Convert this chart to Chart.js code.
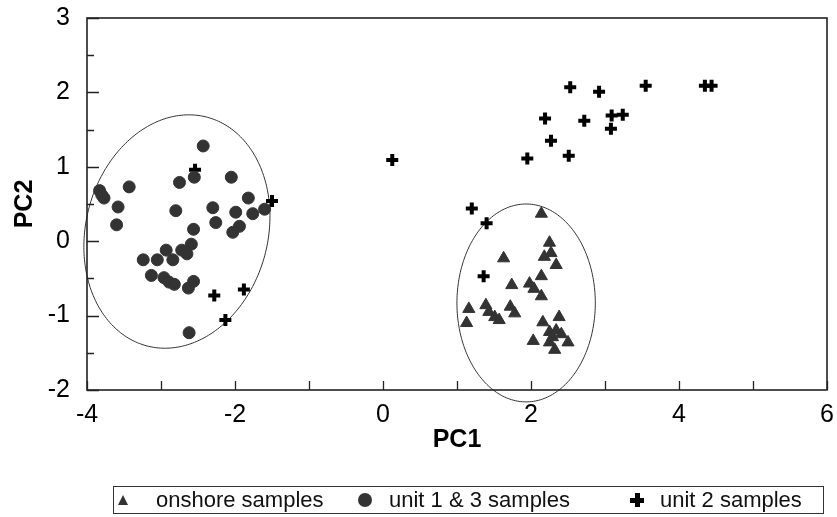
<!DOCTYPE html>
<html><head><meta charset="utf-8">
<script src="https://cdn.jsdelivr.net/npm/chart.js@4/dist/chart.umd.min.js"></script>
<style>
html,body{margin:0;padding:0;background:#fff;}
#wrap{position:relative;width:837px;height:517px;overflow:hidden;}
#legend{position:absolute;left:113px;top:486px;width:709px;height:26px;border:1px solid #333;font-family:"Liberation Sans",Arial,sans-serif;font-size:22px;color:#111;box-sizing:content-box;}
.txt{position:absolute;top:0;height:26px;line-height:26px;white-space:nowrap;}
.mk{position:absolute;}
</style></head><body>
<div id="wrap"><canvas id="c" width="837" height="517" style="width:837px;height:517px"></canvas><div id="legend"></div></div>
<script>
// ---- data ----
const onshoreX = [2.14, 2.25, 2.18, 2.27, 2.34, 1.63, 2.14, 1.98, 2.04, 2.14, 1.74, 1.16, 1.13, 1.39, 1.43, 1.51, 1.57, 1.72, 1.78, 2.16, 2.38, 2.25, 2.34, 2.41, 2.03, 2.25, 2.32, 2.50, 2.29];
const onshoreY = [0.37, -0.02, -0.21, -0.16, -0.32, -0.23, -0.47, -0.57, -0.64, -0.74, -0.59, -0.91, -1.10, -0.86, -0.95, -1.02, -1.06, -0.88, -0.97, -1.09, -1.02, -1.22, -1.20, -1.25, -1.34, -1.36, -1.46, -1.36, -1.29];

const unit13X = [-2.43, -2.55, -2.75, -2.05, -3.43, -3.83, -3.80, -3.77, -3.58, -3.60, -2.80, -2.30, -1.82, -1.99, -1.76, -1.60, -2.26, -1.94, -2.03, -2.56, -2.59, -2.72, -2.65, -2.93, -3.24, -3.05, -2.84, -3.13, -2.96, -2.89, -2.82, -2.56, -2.63, -2.62];
const unit13Y = [1.28, 0.86, 0.79, 0.86, 0.73, 0.68, 0.62, 0.58, 0.46, 0.22, 0.41, 0.45, 0.58, 0.39, 0.37, 0.43, 0.25, 0.20, 0.12, 0.16, -0.04, -0.12, -0.17, -0.12, -0.25, -0.25, -0.25, -0.46, -0.49, -0.55, -0.58, -0.54, -0.63, -1.23];

const unit2X = [-2.54, -1.50, -2.28, -1.88, -2.13, 1.20, 1.40, 1.36, 0.125, 2.53, 2.92, 3.55, 4.35, 4.44, 2.19, 2.72, 3.09, 3.24, 3.08, 2.27, 1.95, 2.51];
const unit2Y = [0.96, 0.54, -0.73, -0.65, -1.06, 0.44, 0.24, -0.47, 1.09, 2.07, 2.01, 2.09, 2.09, 2.09, 1.65, 1.62, 1.69, 1.70, 1.51, 1.35, 1.11, 1.15];

const seriesLabels = ['onshore samples', 'unit 1 & 3 samples', 'unit 2 samples'];

// group ellipses (data units)
const ellipseCX = [-2.785, 1.934];
const ellipseCY = [0.13, -0.83];
const ellipseRX = [1.23, 0.935];
const ellipseRY = [1.59, 1.33];
const ellipseAngleDeg = [-15, 0];

const xTickValues = [-4, -3, -2, -1, 0, 1, 2, 3, 4, 5, 6];
const yTickValues = [-2, -1.5, -1, -0.5, 0, 0.5, 1, 1.5, 2, 2.5, 3];

// ---- chart ----
const FONT = '"Liberation Sans", Arial, sans-serif';
Chart.defaults.font.family = FONT;
const pts = (xs, ys) => xs.map((v, i) => ({x: v, y: ys[i]}));

const framePlugin = {
  id: 'framePlugin',
  beforeDatasetsDraw(chart) {
    const {ctx, chartArea: a, scales: {x, y}} = chart;
    ctx.save();
    ctx.strokeStyle = '#333';
    ctx.lineWidth = 1;
    for (let i = 0; i < ellipseCX.length; i++) {
      const th = ellipseAngleDeg[i] * Math.PI / 180;
      ctx.beginPath();
      for (let k = 0; k <= 240; k++) {
        const t = k / 240 * 2 * Math.PI;
        const ex = ellipseRX[i] * Math.cos(t), ey = ellipseRY[i] * Math.sin(t);
        const dx = ellipseCX[i] + ex * Math.cos(th) - ey * Math.sin(th);
        const dy = ellipseCY[i] + ex * Math.sin(th) + ey * Math.cos(th);
        const px = x.getPixelForValue(dx), py = y.getPixelForValue(dy);
        if (k) ctx.lineTo(px, py); else ctx.moveTo(px, py);
      }
      ctx.closePath();
      ctx.stroke();
    }
    ctx.strokeStyle = '#222';
    ctx.lineWidth = 1.3;
    ctx.beginPath();
    xTickValues.forEach(v => {
      const px = Math.round(x.getPixelForValue(v)) + 0.5;
      ctx.moveTo(px, a.bottom); ctx.lineTo(px, a.bottom - 9);
    });
    yTickValues.forEach(v => {
      const py = Math.round(y.getPixelForValue(v)) + 0.5;
      const len = Number.isInteger(v) ? 12 : 7;
      ctx.moveTo(a.left, py); ctx.lineTo(a.left + len, py);
    });
    ctx.stroke();
    ctx.lineWidth = 1.6;
    ctx.strokeRect(a.left, a.top, a.width, a.height);
    ctx.restore();
  }
};

const chart = new Chart(document.getElementById('c'), {
  type: 'scatter',
  data: {
    datasets: [
      {label: seriesLabels[0], data: pts(onshoreX, onshoreY), pointStyle: 'triangle', pointRadius: 7, backgroundColor: '#333', borderColor: '#333', borderWidth: 1},
      {label: seriesLabels[1], data: pts(unit13X, unit13Y), pointStyle: 'circle', pointRadius: 6, backgroundColor: '#333', borderColor: '#333', borderWidth: 1},
      {label: seriesLabels[2], data: pts(unit2X, unit2Y), pointStyle: 'cross', pointRadius: 6, backgroundColor: '#000', borderColor: '#000', borderWidth: 4}
    ]
  },
  options: {
    responsive: false,
    animation: false,
    layout: {padding: {left: 0, right: 9, top: 18, bottom: 62}},
    plugins: {legend: {display: false}, tooltip: {enabled: false}},
    scales: {
      x: {
        type: 'linear', min: -4, max: 6,
        ticks: {stepSize: 2, color: '#000', font: {size: 25}, padding: 10, maxRotation: 0, autoSkip: false},
        grid: {display: false, drawTicks: false},
        border: {display: false},
        title: {display: true, text: 'PC1', color: '#000', font: {size: 25, weight: 'bold'}, padding: 0},
        afterFit(s) { s.height = 65; s.paddingLeft = 0; s.paddingRight = 0; }
      },
      y: {
        type: 'linear', min: -2, max: 3,
        ticks: {stepSize: 1, color: '#000', font: {size: 25}, padding: 17},
        grid: {display: false, drawTicks: false},
        border: {display: false},
        title: {display: true, text: 'PC2', color: '#000', font: {size: 25, weight: 'bold'}, padding: 10},
        afterFit(s) { s.width = 87; s.paddingTop = 0; s.paddingBottom = 0; }
      }
    }
  },
  plugins: [framePlugin]
});

(function () {
  const box = document.getElementById('legend');
  const layout = [
    {mk: 9, txt: 42},
    {mk: 251, txt: 275},
    {mk: 523, txt: 546}
  ];
  chart.data.datasets.forEach((ds, i) => {
    const m = document.createElement('div');
    m.className = 'mk';
    const c = layout[i].mk;
    if (ds.pointStyle === 'triangle') {
      m.style.cssText = `left:${c - 5}px;top:8px;width:0;height:0;border-left:5px solid transparent;border-right:5px solid transparent;border-bottom:10px solid ${ds.backgroundColor};`;
    } else if (ds.pointStyle === 'circle') {
      m.style.cssText = `left:${c - 7}px;top:6px;width:14px;height:14px;border-radius:50%;background:${ds.backgroundColor};`;
    } else {
      m.style.cssText = `left:${c - 7}px;top:6px;width:14px;height:14px;`;
      m.innerHTML = `<div style="position:absolute;left:0;top:5px;width:14px;height:4.5px;background:${ds.borderColor}"></div><div style="position:absolute;left:5px;top:0;width:4.5px;height:14px;background:${ds.borderColor}"></div>`;
    }
    box.appendChild(m);
    const t = document.createElement('span');
    t.className = 'txt';
    t.style.left = layout[i].txt + 'px';
    t.textContent = ds.label;
    box.appendChild(t);
  });
})();
</script>
</body></html>
